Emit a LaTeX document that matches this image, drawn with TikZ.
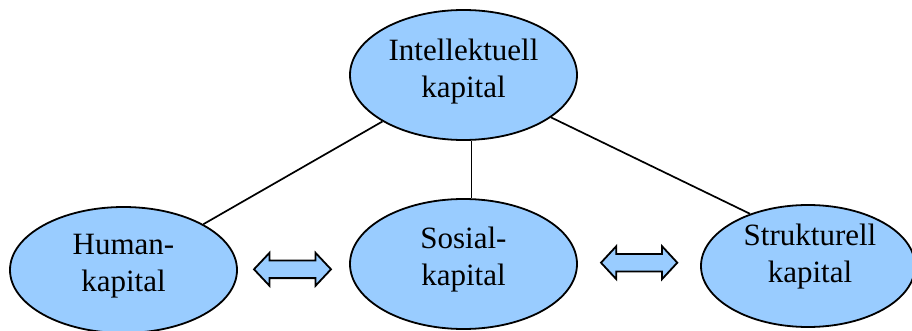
\documentclass[tikz,border=0pt]{standalone}
\usepackage{fontspec}
\setmainfont{Liberation Serif}
\usetikzlibrary{shapes.geometric}
\definecolor{bub}{HTML}{99CCFF}
\begin{document}
\begin{tikzpicture}[x=1pt,y=-1pt,
  bubble/.style={ellipse,draw=black,fill=bub,line width=1.8pt,inner sep=0pt},
  lbl/.style={align=center,font=\fontsize{31}{37}\selectfont,inner sep=0pt},
  link/.style={line width=1.7pt},
  dbl/.style={draw=black,fill=bub,line width=1.8pt,line join=miter}]
\useasboundingbox (0,0) rectangle (912,331);
\node[bubble,minimum width=227pt,minimum height=130pt] (ik) at (463.5,75) {};
\node[bubble,minimum width=227pt,minimum height=126pt] (hu) at (123.5,270) {};
\node[bubble,minimum width=227pt,minimum height=130pt] (so) at (463.5,264) {};
\node[bubble,minimum width=214pt,minimum height=122pt] (st) at (808,266) {};
\node[lbl] (ikt) at (463.5,71.5) {Intellektuell\\kapital};
\node[lbl] (hut) at (123.5,266.5) {Human-\\kapital};
\node[lbl] (sot) at (463.5,259.5) {Sosial-\\kapital};
\node[lbl] (stt) at (810,257) {Strukturell\\kapital};
\draw[link] (ik) -- (hu);
\draw[link] (ik.-83.8) -- (so.83.8);
\draw[link] (ik) -- (st.138);
% double arrows
\draw[dbl] (254,269.3) -- (269.5,252.8) -- (269.5,260.5) -- (315.5,260.5) -- (315.5,252.8)
  -- (331,269.3) -- (315.5,285.8) -- (315.5,278.1) -- (269.5,278.1) -- (269.5,285.8) -- cycle;
\draw[dbl] (601,262.7) -- (616.3,246.2) -- (616.3,253.9) -- (662,253.9) -- (662,246.2)
  -- (677.3,262.7) -- (662,279.2) -- (662,271.5) -- (616.3,271.5) -- (616.3,279.2) -- cycle;
\end{tikzpicture}
\end{document}
